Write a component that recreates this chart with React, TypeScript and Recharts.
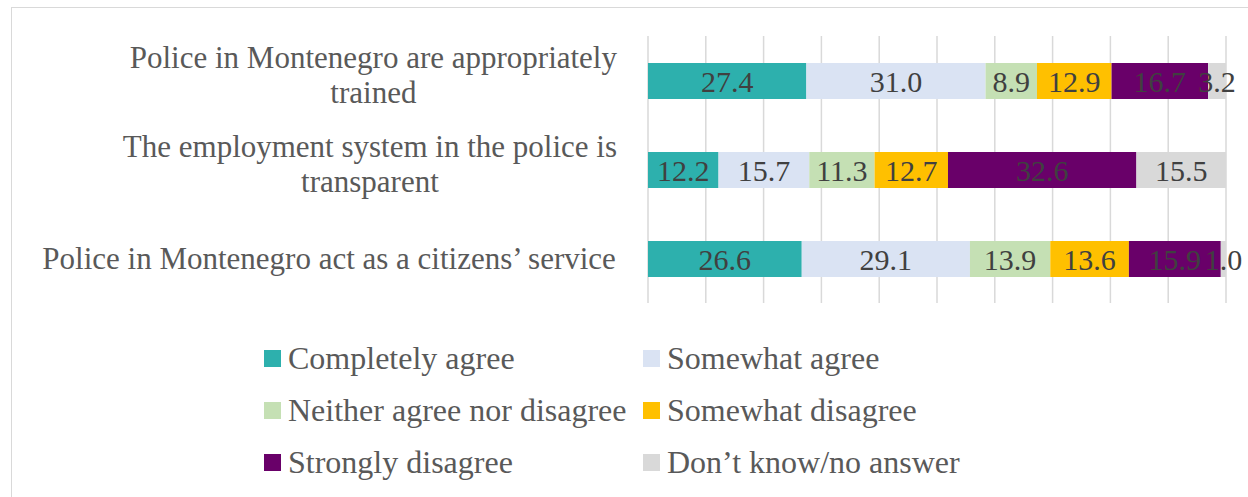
import React from "react";
import { BarChart, Bar, XAxis, YAxis, CartesianGrid, Legend, LabelList } from "recharts";

const categories = [
  "Police in Montenegro are appropriately\ntrained",
  "The employment system in the police is\ntransparent",
  "Police in Montenegro act as a citizens’ service",
];

const seriesNames = [
  "Completely agree",
  "Somewhat agree",
  "Neither agree nor disagree",
  "Somewhat disagree",
  "Strongly disagree",
  "Don’t know/no answer",
];

const completelyAgree = [27.4, 12.2, 26.6];
const somewhatAgree = [31.0, 15.7, 29.1];
const neitherAgree = [8.9, 11.3, 13.9];
const somewhatDisagree = [12.9, 12.7, 13.6];
const stronglyDisagree = [16.7, 32.6, 15.9];
const dontKnow = [3.2, 15.5, 1.0];

const xTicks = [0, 10, 20, 30, 40, 50, 60, 70, 80, 90, 100];

const colors = ["#2DB0AD", "#DAE3F3", "#C5E0B4", "#FFC000", "#690069", "#D9D9D9"];

const seriesValues = [completelyAgree, somewhatAgree, neitherAgree, somewhatDisagree, stronglyDisagree, dontKnow];

const data = categories.map((name, i) => {
  const row: Record<string, string | number> = { name };
  seriesValues.forEach((vals, s) => {
    row["s" + s] = vals[i];
  });
  return row;
});

const FONT = "'Liberation Serif', 'Times New Roman', serif";
const TEXT = "#595959";

let ctx: CanvasRenderingContext2D | null = null;
function textWidth(t: string, size: number) {
  if (!ctx) ctx = document.createElement("canvas").getContext("2d");
  if (!ctx) return t.length * size * 0.45;
  ctx.font = `${size}px ${FONT}`;
  return ctx.measureText(t).width;
}

function CategoryTick(props: any) {
  const { y, payload } = props;
  const size = 31;
  const lines: string[] = String(payload.value).split("\n");
  const maxW = Math.max(...lines.map((l) => textWidth(l, size)));
  const cx = 617 - maxW / 2;
  const lh = 34.5;
  const shift = lines.length > 1 ? -5 : 0;
  const first = y + shift - ((lines.length - 1) * lh) / 2;
  return (
    <g>
      {lines.map((l, i) => (
        <text
          key={i}
          x={cx}
          y={first + i * lh + size * 0.33}
          textAnchor="middle"
          fill={TEXT}
          fontSize={size}
          fontFamily={FONT}
        >
          {l}
        </text>
      ))}
    </g>
  );
}

function LegendContent() {
  return (
    <div style={{ display: "grid", gridTemplateColumns: "379px 379px", fontFamily: FONT }}>
      {seriesNames.map((n, i) => (
        <div key={n} style={{ display: "flex", alignItems: "center", height: 52.1 }}>
          <span style={{ width: 17, height: 17, background: colors[i], marginRight: 7, flex: "none" }} />
          <span style={{ fontSize: 32, color: TEXT, whiteSpace: "nowrap" }}>{n}</span>
        </div>
      ))}
    </div>
  );
}

export default function App() {
  return (
    <div style={{ position: "absolute", left: 0, top: 0, width: 1248, height: 497, background: "#fff", overflow: "hidden" }}>
      <div
        style={{
          position: "absolute",
          left: 11,
          top: 7,
          width: 1400,
          height: 700,
          border: "1.5px solid #D9D9D9",
        }}
      />
      <BarChart
        width={1248}
        height={497}
        data={data}
        layout="vertical"
        margin={{ top: 36, right: 22, bottom: 194, left: 0 }}
        barSize={36}
      >
        <CartesianGrid horizontal={false} stroke="#D9D9D9" strokeWidth={1.5} />
        <XAxis type="number" domain={[0, 100]} ticks={xTicks} allowDataOverflow hide />
        <YAxis
          type="category"
          dataKey="name"
          width={648}
          axisLine={false}
          tickLine={false}
          tick={<CategoryTick />}
          interval={0}
        />
        <Legend
          layout="horizontal"
          verticalAlign="middle"
          align="center"
          content={<LegendContent />}
          wrapperStyle={{ position: "absolute", top: 332, left: 264, width: 800, height: 160 }}
        />
        {seriesNames.map((n, s) => (
          <Bar key={n} dataKey={"s" + s} name={n} stackId="a" fill={colors[s]} isAnimationActive={false}>
            <LabelList
              dataKey={"s" + s}
              position="center"
              fill="#404040"
              fontSize={30}
              fontFamily={FONT}
              formatter={(v: any) => Number(v).toFixed(1)}
            />
          </Bar>
        ))}
      </BarChart>
    </div>
  );
}
